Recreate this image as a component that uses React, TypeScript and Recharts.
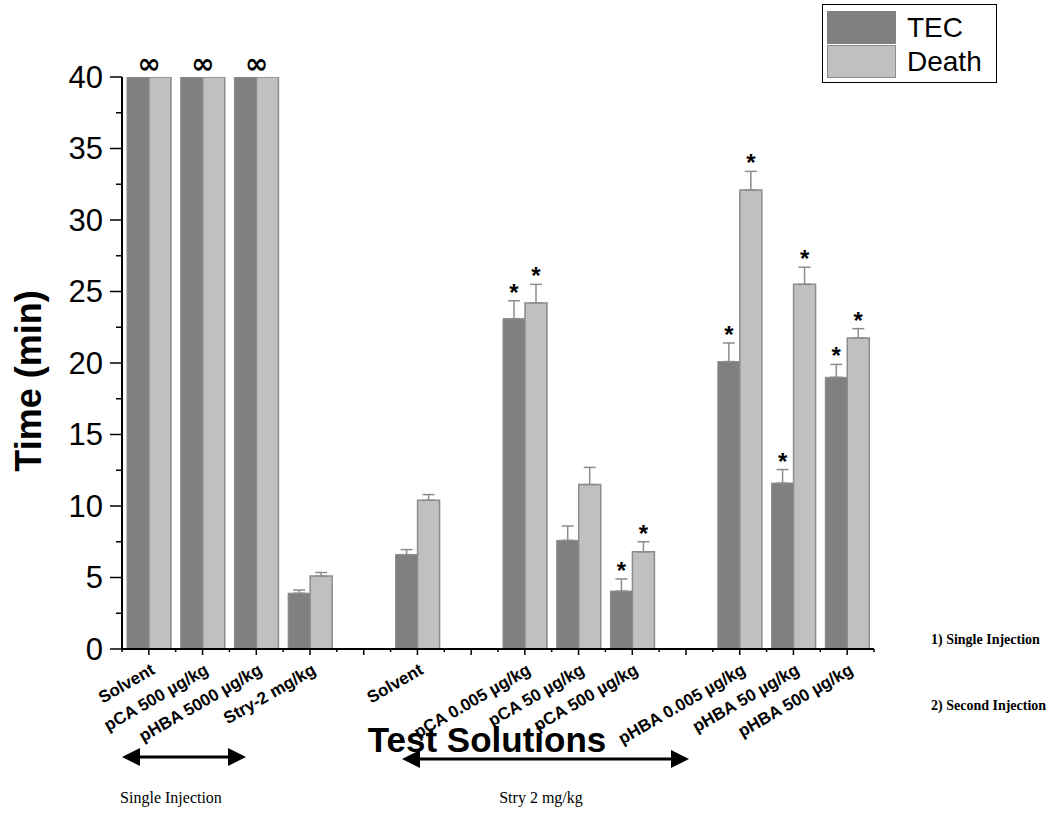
import React from 'react';
import { BarChart, Bar, XAxis, YAxis, ErrorBar, LabelList, Legend } from 'recharts';

// ---- data ----
const categories = [
  'Solvent', 'pCA 500 µg/kg', 'pHBA 5000 µg/kg', 'Stry-2 mg/kg', '',
  'Solvent', '', 'pCA 0.005 µg/kg', 'pCA 50 µg/kg', 'pCA 500 µg/kg', '',
  'pHBA 0.005 µg/kg', 'pHBA 50 µg/kg', 'pHBA 500 µg/kg',
];
const tecValues = [40, 40, 40, 3.9, null, 6.6, null, 23.1, 7.6, 4.05, null, 20.1, 11.6, 19.0];
const tecErrors = [null, null, null, 0.22, null, 0.35, null, 1.25, 1.0, 0.85, null, 1.3, 0.95, 0.9];
const deathValues = [40, 40, 40, 5.1, null, 10.4, null, 24.2, 11.5, 6.8, null, 32.1, 25.5, 21.75];
const deathErrors = [null, null, null, 0.25, null, 0.4, null, 1.3, 1.2, 0.7, null, 1.3, 1.2, 0.65];
const tecSignificant = [false, false, false, false, false, false, false, true, false, true, false, true, true, true];
const deathSignificant = [false, false, false, false, false, false, false, true, false, true, false, true, true, true];
const infiniteTime = [true, true, true, false, false, false, false, false, false, false, false, false, false, false];
const yTicks = [0, 2.5, 5, 7.5, 10, 12.5, 15, 17.5, 20, 22.5, 25, 27.5, 30, 32.5, 35, 37.5, 40];
const seriesNames = ['TEC', 'Death'];
const seriesColors = ['#808080', '#c0c0c0'];

const data = categories.map((c, i) => ({
  key: String(i),
  tec: tecValues[i],
  tecErr: tecErrors[i] == null ? null : [0, tecErrors[i]],
  death: deathValues[i],
  deathErr: deathErrors[i] == null ? null : [0, deathErrors[i]],
}));

const SANS = "Arial, 'Liberation Sans', sans-serif";
const SERIF = "'Times New Roman', 'Liberation Serif', serif";

const XTick = (props: any) => {
  const { x, y, payload } = props;
  const idx = Number(payload.value);
  const half = payload.offset ?? 0;
  const label = categories[idx];
  const last = idx === categories.length - 1;
  const ax = x + 7;
  const ay = y + 24;
  return (
    <g>
      <line x1={x} y1={y} x2={x} y2={y + 6} stroke="#000" strokeWidth={1.5} />
      <line x1={x - half} y1={y} x2={x - half} y2={y + 3} stroke="#000" strokeWidth={1.5} />
      {last && <line x1={x + half} y1={y} x2={x + half} y2={y + 3} stroke="#000" strokeWidth={1.5} />}
      {label && (
        <text x={ax} y={ay} textAnchor="end" transform={`rotate(-30, ${ax}, ${ay})`}
          fontFamily={SANS} fontWeight="bold" fontSize={17} fill="#000">{label}</text>
      )}
    </g>
  );
};

const YTick = (props: any) => {
  const { x, y, payload } = props;
  const v = payload.value;
  const major = v % 5 === 0;
  return (
    <g>
      <line x1={x - (major ? 12 : 6)} y1={y} x2={x} y2={y} stroke="#000" strokeWidth={1.5} />
      {major && (
        <text x={x - 19} y={y} textAnchor="end" dominantBaseline="central"
          fontFamily={SANS} fontSize={31} fill="#000">{v}</text>
      )}
    </g>
  );
};

const getBox = (props: any) => {
  const vb = props.viewBox ?? {};
  return {
    x: props.x ?? vb.x,
    y: props.y ?? vb.y,
    width: props.width ?? vb.width,
    height: props.height ?? vb.height,
  };
};

// LabelList value is the category key, so marks are looked up by category index
const InfinityMark = (props: any) => {
  const idx = Number(props.value);
  if (!infiniteTime[idx]) return null;
  const { x, y, width } = getBox(props);
  return (
    <text x={x + width} y={y - 4} textAnchor="middle" fontFamily="'DejaVu Sans', sans-serif"
      fontWeight="bold" fontSize={28} fill="#000">∞</text>
  );
};

const makeStar = (values: (number | null)[], errs: (number | null)[], sig: boolean[]) => (props: any) => {
  const idx = Number(props.value);
  const v = values[idx];
  if (!sig[idx] || v == null) return null;
  const { x, y, width, height } = getBox(props);
  const pxPerUnit = height / v;
  const top = y - (errs[idx] ?? 0) * pxPerUnit;
  return (
    <text x={x + width / 2} y={top} textAnchor="middle" fontFamily={SANS}
      fontWeight="bold" fontSize={24} fill="#000">*</text>
  );
};

const TecStar = makeStar(tecValues, tecErrors, tecSignificant);
const DeathStar = makeStar(deathValues, deathErrors, deathSignificant);

const LegendBox = () => (
  <div style={{ border: '1px solid #000', background: '#fff', width: 175, height: 79, boxSizing: 'border-box', paddingTop: 5, paddingLeft: 4 }}>
    {seriesNames.map((name, i) => (
      <div key={name} style={{ display: 'flex', alignItems: 'center', height: 34 }}>
        <div style={{ width: 69, height: 33, boxSizing: 'border-box', background: seriesColors[i],
          border: i === 1 ? '1.5px solid #8c8c8c' : 'none' }} />
        <span style={{ marginLeft: 11, fontFamily: SANS, fontSize: 28, color: '#000', lineHeight: '33px' }}>{name}</span>
      </div>
    ))}
  </div>
);

const Arrow = ({ x1, x2, y }: { x1: number; x2: number; y: number }) => (
  <g>
    <line x1={x1 + 10} y1={y} x2={x2 - 10} y2={y} stroke="#000" strokeWidth={3} />
    <polygon points={`${x1},${y} ${x1 + 18},${y - 9} ${x1 + 18},${y + 9}`} fill="#000" />
    <polygon points={`${x2},${y} ${x2 - 18},${y - 9} ${x2 - 18},${y + 9}`} fill="#000" />
  </g>
);

export default function App() {
  return (
    <div style={{ position: 'absolute', left: 0, top: 0, width: 1060, height: 825, background: '#fff' }}>
      <BarChart width={1060} height={825} data={data} barGap={0} barSize={22}
        margin={{ top: 77, right: 186, left: 0, bottom: 76 }}>
        <XAxis dataKey="key" type="category" interval={0} height={100} tickSize={0} tickMargin={0}
          tickLine={false} axisLine={{ stroke: '#000', strokeWidth: 2 }} tick={<XTick />} />
        <YAxis type="number" domain={[0, 40]} ticks={yTicks} interval={0} width={122} tickSize={0}
          tickMargin={0} tickLine={false} axisLine={{ stroke: '#000', strokeWidth: 2 }} tick={<YTick />}
          allowDataOverflow />
        <Legend layout="vertical" align="center" verticalAlign="middle" content={<LegendBox />}
          wrapperStyle={{ left: 822, top: 4, width: 175, height: 79 }} />
        <Bar dataKey="tec" name={seriesNames[0]} fill={seriesColors[0]} stroke="#8a8a8a" strokeWidth={1} isAnimationActive={false}>
          <ErrorBar dataKey="tecErr" direction="y" width={6} stroke="#8c8c8c" strokeWidth={1.5} />
          <LabelList dataKey="key" content={<InfinityMark />} />
          <LabelList dataKey="key" content={<TecStar />} />
        </Bar>
        <Bar dataKey="death" name={seriesNames[1]} fill={seriesColors[1]} stroke="#8c8c8c" strokeWidth={1.5} isAnimationActive={false}>
          <ErrorBar dataKey="deathErr" direction="y" width={6} stroke="#8c8c8c" strokeWidth={1.5} />
          <LabelList dataKey="key" content={<DeathStar />} />
        </Bar>
      </BarChart>
      <svg width={1060} height={825} style={{ position: 'absolute', left: 0, top: 0, pointerEvents: 'none' }}>
        <text x={28} y={381} transform="rotate(-90, 28, 381)" textAnchor="middle" dominantBaseline="central"
          fontFamily={SANS} fontWeight="bold" fontSize={36} fill="#000">Time (min)</text>
        <text x={487} y={752} textAnchor="middle" fontFamily={SANS} fontWeight="bold" fontSize={35} fill="#000">Test Solutions</text>
        <Arrow x1={122} x2={246} y={757} />
        <Arrow x1={402} x2={689} y={759} />
        <text x={171} y={803} textAnchor="middle" fontFamily={SERIF} fontSize={16} fill="#000">Single Injection</text>
        <text x={541} y={803} textAnchor="middle" fontFamily={SERIF} fontSize={16} fill="#000">Stry 2 mg/kg</text>
        <text x={931} y={644} fontFamily={SERIF} fontWeight="bold" fontSize={14} fill="#000">1) Single Injection</text>
        <text x={931} y={710} fontFamily={SERIF} fontWeight="bold" fontSize={14} fill="#000">2) Second Injection</text>
      </svg>
    </div>
  );
}
